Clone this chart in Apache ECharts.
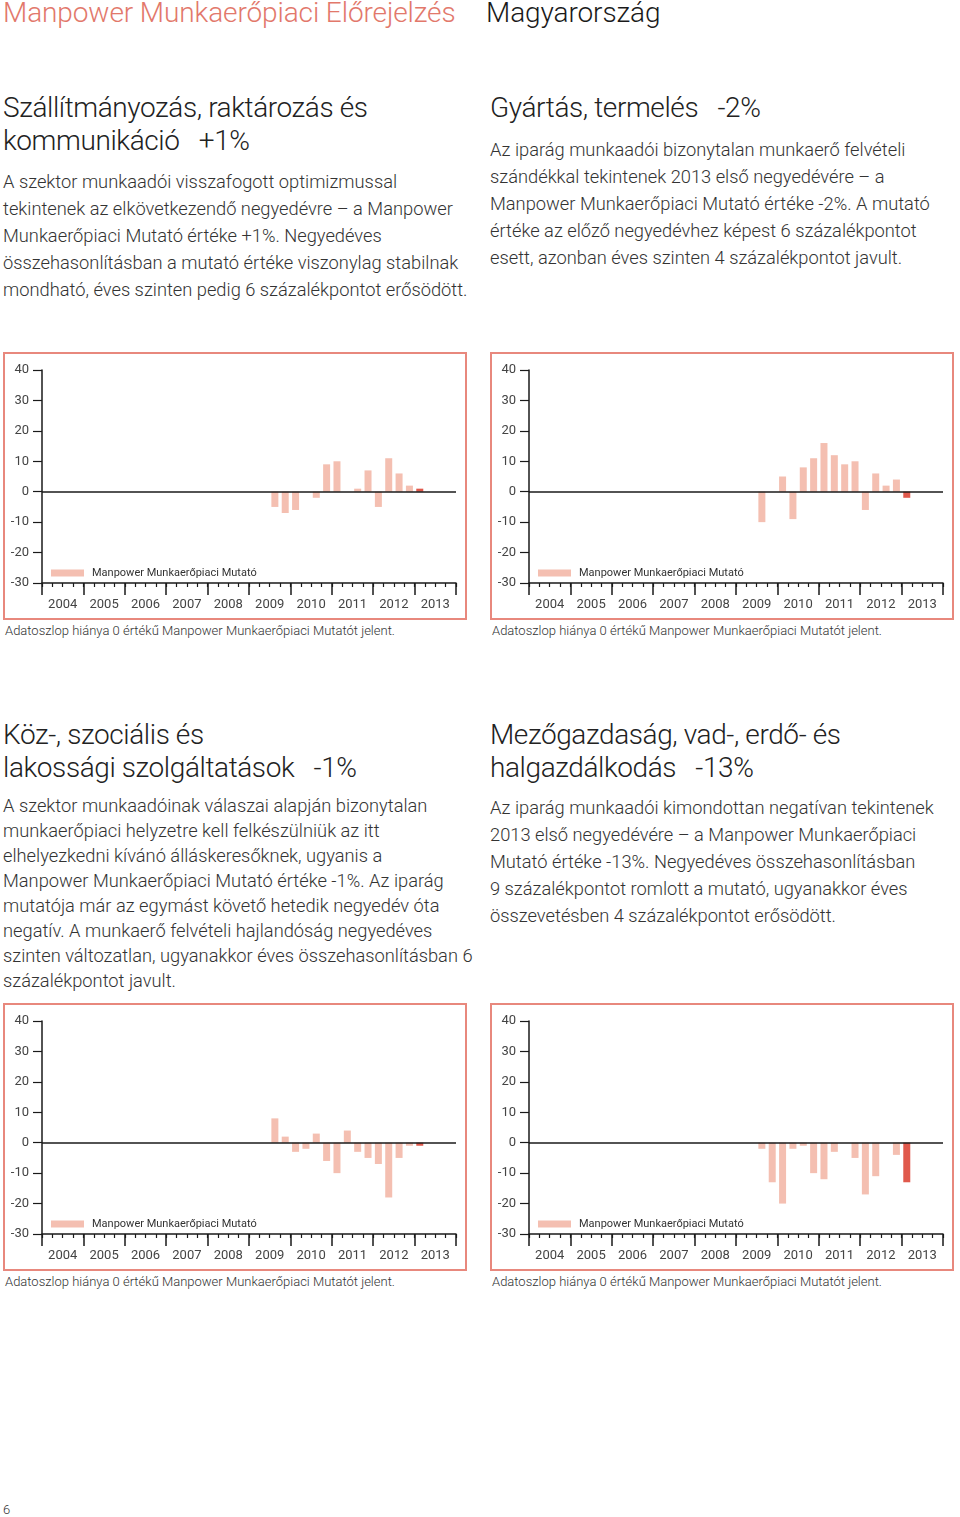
<!DOCTYPE html>
<html>
<head>
<meta charset="utf-8">
<script src="https://cdn.jsdelivr.net/npm/echarts@6/dist/echarts.min.js"></script>
<style>
  html, body { margin:0; padding:0; background:#fff; }
  body { width:960px; height:1517px; position:relative; overflow:hidden;
         font-family: Roboto, "Liberation Sans", sans-serif; font-weight:300; color:#2b2b2b; }
  .t { position:absolute; white-space:nowrap; }
  .hdr { font-size:28px; line-height:26px; top:0; letter-spacing:-0.1px; }
  .title { font-size:28px; line-height:33px; color:#222; letter-spacing:-0.4px; }
  .body { font-size:18.3px; line-height:27px; color:#333; letter-spacing:0; }
  .note { font-size:13px; line-height:14px; color:#333; }
  .box { position:absolute; width:464px; height:268px; border:2px solid #e8887d; box-sizing:border-box; }
  .chart { width:460px; height:264px; }
</style>
</head>
<body>
<div class="t hdr" style="left:3px; color:#e2786b;">Manpower Munkaerőpiaci Előrejelzés</div>
<div class="t hdr" style="left:486px; color:#1a1a1a;">Magyarország</div>

<div class="t title" style="left:3px; top:91px;">Szállítmányozás, raktározás és<br>kommunikáció&nbsp;&nbsp;&nbsp;+1%</div>
<div class="t body" style="left:3px; top:168px;">A szektor munkaadói visszafogott optimizmussal<br>tekintenek az elkövetkezendő negyedévre – a Manpower<br>Munkaerőpiaci Mutató értéke +1%. Negyedéves<br>összehasonlításban a mutató értéke viszonylag stabilnak<br>mondható, éves szinten pedig 6 százalékpontot erősödött.</div>

<div class="t title" style="left:490px; top:91px;">Gyártás, termelés&nbsp;&nbsp;&nbsp;-2%</div>
<div class="t body" style="left:490px; top:136px;">Az iparág munkaadói bizonytalan munkaerő felvételi<br>szándékkal tekintenek 2013 első negyedévére – a<br>Manpower Munkaerőpiaci Mutató értéke -2%. A mutató<br>értéke az előző negyedévhez képest 6 százalékpontot<br>esett, azonban éves szinten 4 százalékpontot javult.</div>

<div class="box" style="left:3px; top:352px;"><div id="c1" class="chart"></div></div>
<div class="box" style="left:490px; top:352px;"><div id="c2" class="chart"></div></div>
<div class="t note" style="left:5px; top:624px;">Adatoszlop hiánya 0 értékű Manpower Munkaerőpiaci Mutatót jelent.</div>
<div class="t note" style="left:492px; top:624px;">Adatoszlop hiánya 0 értékű Manpower Munkaerőpiaci Mutatót jelent.</div>

<div class="t title" style="left:3px; top:718px;">Köz-, szociális és<br>lakossági szolgáltatások&nbsp;&nbsp;&nbsp;-1%</div>
<div class="t body" style="left:3px; top:793px; line-height:25px;">A szektor munkaadóinak válaszai alapján bizonytalan<br>munkaerőpiaci helyzetre kell felkészülniük az itt<br>elhelyezkedni kívánó álláskeresőknek, ugyanis a<br>Manpower Munkaerőpiaci Mutató értéke -1%. Az iparág<br>mutatója már az egymást követő hetedik negyedév óta<br>negatív. A munkaerő felvételi hajlandóság negyedéves<br>szinten változatlan, ugyanakkor éves összehasonlításban 6<br>százalékpontot javult.</div>

<div class="t title" style="left:490px; top:718px;">Mezőgazdaság, vad-, erdő- és<br>halgazdálkodás&nbsp;&nbsp;&nbsp;-13%</div>
<div class="t body" style="left:490px; top:794px;">Az iparág munkaadói kimondottan negatívan tekintenek<br>2013 első negyedévére – a Manpower Munkaerőpiaci<br>Mutató értéke -13%. Negyedéves összehasonlításban<br>9 százalékpontot romlott a mutató, ugyanakkor éves<br>összevetésben 4 százalékpontot erősödött.</div>

<div class="box" style="left:3px; top:1003px;"><div id="c3" class="chart"></div></div>
<div class="box" style="left:490px; top:1003px;"><div id="c4" class="chart"></div></div>
<div class="t note" style="left:5px; top:1275px;">Adatoszlop hiánya 0 értékű Manpower Munkaerőpiaci Mutatót jelent.</div>
<div class="t note" style="left:492px; top:1275px;">Adatoszlop hiánya 0 értékű Manpower Munkaerőpiaci Mutatót jelent.</div>

<div class="t note" style="left:3px; top:1503px;">6</div>

<script>
// Tick labels
const years = ['2004','2005','2006','2007','2008','2009','2010','2011','2012','2013'];
const yTicks = [-30, -20, -10, 0, 10, 20, 30, 40];
// Survey quarters with data: 2009 Q3 … 2013 Q1
const surveyQuarters = ['2009Q3','2009Q4','2010Q1','2010Q2','2010Q3','2010Q4','2011Q1','2011Q2',
                        '2011Q3','2011Q4','2012Q1','2012Q2','2012Q3','2012Q4','2013Q1'];
// Net Employment Outlook values per sector
const transport   = [-5, -7, -6, 0, -2,  9, 10,  0,  1,  7, -5, 11,  6,  2,  1];
const manufacture = [-10, 0,  5, -9,  8, 11, 16, 12,  9, 10, -6,  6,  2,  4, -2];
const publicServ  = [ 8,  2, -3, -2,  3, -6, -10, 4, -3, -5, -7, -18, -5, -1, -1];
const agriculture = [-2, -13, -20, -2, -1, -10, -12, -3, 0, -5, -17, -11, 0, -4, -13];

const legendName = 'Manpower Munkaerőpiaci Mutató';
const light = '#f4bfb1';
const dark = '#e0594c';

// all quarter categories 2004Q1..2013Q4
const quarters = [];
years.forEach(y => { for (let q = 1; q <= 4; q++) quarters.push(y + 'Q' + q); });

function build(values) {
  const map = {};
  surveyQuarters.forEach((q, i) => { map[q] = values[i]; });
  const last = surveyQuarters[surveyQuarters.length - 1];
  return quarters.map(q => {
    if (!(q in map)) return null;
    if (q === last) return { value: map[q], itemStyle: { color: dark } };
    return map[q];
  });
}

function makeChart(id, values) {
  const chart = echarts.init(document.getElementById(id), null, { renderer: 'canvas' });
  const axisColor = '#1a1a1a';
  chart.setOption({
    animation: false,
    textStyle: { fontFamily: 'Roboto, "Liberation Sans", sans-serif' },
    grid: { left: 37, right: 9, top: 16, bottom: 35 },
    legend: {
      data: [{ name: legendName, icon: 'rect' }],
      left: 46, top: 212, itemWidth: 33, itemHeight: 7, itemGap: 0,
      padding: 0,
      textStyle: { fontSize: 11, color: '#333', lineHeight: 14, padding: [0, 0, 0, 3] }
    },
    xAxis: [
      {
        type: 'category', data: quarters, position: 'bottom',
        axisLine: { show: true, onZero: false, lineStyle: { color: axisColor, width: 1.5 } },
        axisTick: { show: true, interval: 0, length: 4, lineStyle: { color: axisColor, width: 1.2 } },
        axisLabel: { show: false }, splitLine: { show: false }
      },
      {
        type: 'category', data: years, position: 'bottom',
        axisLine: { show: false, onZero: false },
        axisTick: { show: true, interval: 0, length: 12, lineStyle: { color: axisColor, width: 1.5 } },
        axisLabel: { show: true, interval: 0, margin: 15, fontSize: 13, color: '#444' },
        splitLine: { show: false }
      }
    ],
    yAxis: {
      type: 'value', min: yTicks[0], max: yTicks[yTicks.length - 1], interval: 10,
      axisLine: { show: true, lineStyle: { color: axisColor, width: 1.5 } },
      axisTick: { show: true, length: 9, lineStyle: { color: axisColor, width: 1.2 } },
      axisLabel: { margin: 13, fontSize: 13, color: '#444' },
      splitLine: { show: false }
    },
    series: [{
      name: legendName, type: 'bar', xAxisIndex: 0, data: build(values),
      barWidth: 7, itemStyle: { color: light },
      markLine: {
        silent: true, symbol: ['none', 'none'], label: { show: false },
        lineStyle: { color: '#1a1a1a', width: 1.5, type: 'solid' },
        data: [{ yAxis: 0 }]
      }
    }]
  });
}

makeChart('c1', transport);
makeChart('c2', manufacture);
makeChart('c3', publicServ);
makeChart('c4', agriculture);
</script>
</body>
</html>
